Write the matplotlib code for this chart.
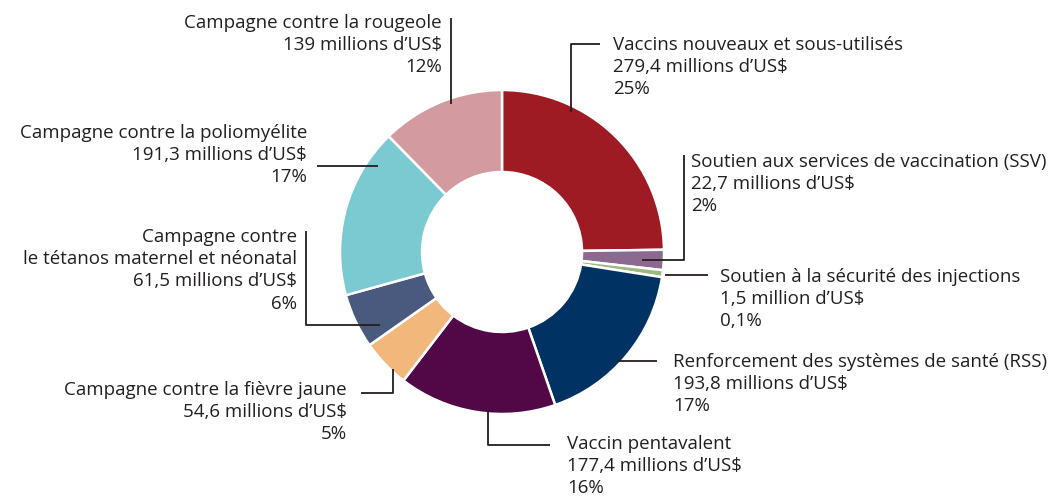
import numpy as np
import matplotlib.pyplot as plt

# GAVI disbursements by programme (millions US$)
labels = ["Vaccins nouveaux et sous-utilisés",
          "Soutien aux services de vaccination (SSV)",
          "Soutien à la sécurité des injections",
          "Renforcement des systèmes de santé (RSS)",
          "Vaccin pentavalent",
          "Campagne contre la fièvre jaune",
          "Campagne contre\nle tétanos maternel et néonatal",
          "Campagne contre la poliomyélite",
          "Campagne contre la rougeole"]
values = [279.4, 22.7, 1.5, 193.8, 177.4, 54.6, 61.5, 191.3, 139]
amounts = ["279,4 millions d\u2019US$", "22,7 millions d\u2019US$", "1,5 million d\u2019US$",
           "193,8 millions d\u2019US$", "177,4 millions d\u2019US$", "54,6 millions d\u2019US$",
           "61,5 millions d\u2019US$", "191,3 millions d\u2019US$", "139 millions d\u2019US$"]
shares = ["25%", "2%", "0,1%", "17%", "16%", "5%", "6%", "17%", "12%"]
colors = ["#9e1b24", "#8c6a90", "#9db982", "#003263", "#520847",
          "#f2b77a", "#4a5a7e", "#7ccad1", "#d39ba0"]

W, H = 1056, 499
fig = plt.figure(figsize=(W/100, H/100), dpi=100)
ax = fig.add_axes([0, 0, 1, 1])

plt.rcParams['font.family'] = ['Open Sans', 'DejaVu Sans']

def Y(y):
    # pixel row (from top) -> data y
    return H - y

# tiny slice drawn a bit wider so it stays visible, as in the original
total = sum(values)
disp = np.maximum(np.array(values), 0.007*total)

ax.pie(disp, colors=colors, startangle=90, counterclock=False,
       center=(502, Y(252)), radius=162,
       wedgeprops=dict(width=82, edgecolor='white', linewidth=1.8))

ax.set_xlim(0, W)
ax.set_ylim(0, H)
ax.set_aspect('equal')
ax.axis('off')

fs = 13.5
tc = '#231f20'
lc = '#231f20'

def label(i, x, y, ha):
    # y = centre of the first line
    txt = labels[i] + "\n" + amounts[i] + "\n" + shares[i]
    ax.text(x, Y(y - 9), txt, ha=ha, va='top', fontsize=fs, color=tc,
            linespacing=1.3, multialignment=ha)

def line(xs, ys):
    ax.plot(xs, [Y(v) for v in ys], color=lc, lw=1.3, solid_capstyle='butt')

# right side
label(0, 613, 45, 'left')
line([571, 571, 600], [112, 44, 44])
label(1, 691, 162, 'left')
line([642, 684, 684], [260, 260, 155])
label(2, 720, 277, 'left')
line([665, 708], [275, 275])
label(3, 673, 362, 'left')
line([617, 657], [361, 361])
label(4, 567, 444, 'left')
line([488, 488, 550], [410, 445, 445])

# left side
label(5, 347, 390, 'right')
line([393, 393, 361], [369, 393, 393])
label(6, 297, 237, 'right')
line([380, 306, 306], [325, 325, 231])
label(7, 307, 133, 'right')
line([378, 317], [166, 166])
label(8, 442, 23, 'right')
line([451, 451], [104, 18])

fig.savefig("out.png", dpi=100)
